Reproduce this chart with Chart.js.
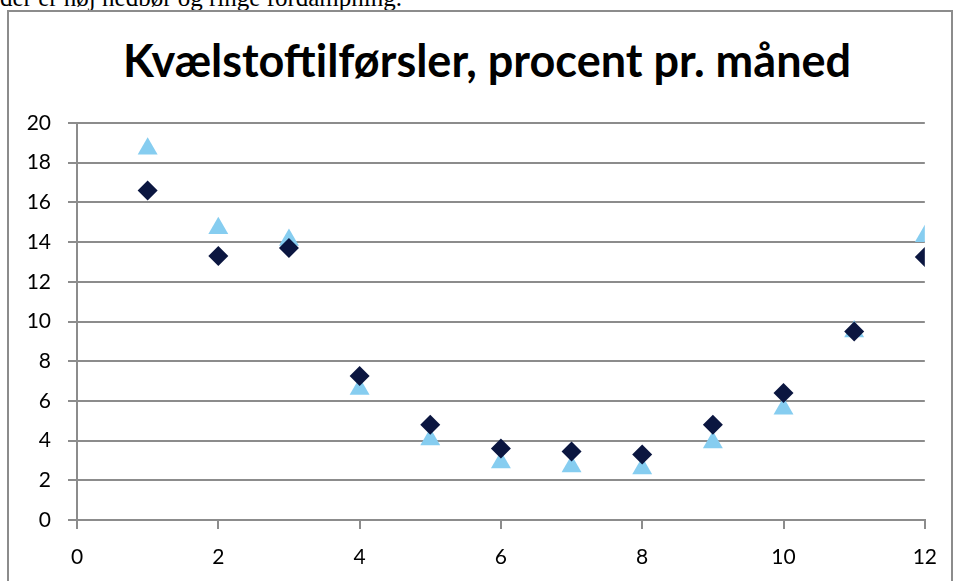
<!DOCTYPE html>
<html>
<head>
<meta charset="utf-8">
<script src="https://cdn.jsdelivr.net/npm/chart.js@4/dist/chart.umd.min.js"></script>
<style>
  html, body { margin: 0; padding: 0; background: #fff; overflow: hidden; }
  #page { position: relative; width: 953px; height: 581px; overflow: hidden; }
  #intro { position: absolute; left: 0; top: -16px; font-family: "Liberation Serif", "Times New Roman", serif; font-size: 25px; white-space: nowrap; color: #000; }
  #frame { position: absolute; left: 7px; top: 10px; width: 942px; height: 600px; border: 2px solid #8c8c8c; background: #fff; }
  #title { position: absolute; left: 0; top: 33px; width: 974px; text-align: center; font-family: "Lato", sans-serif; font-weight: bold; font-size: 45px; line-height: 54px; color: #000; white-space: nowrap; }
  #wrap { position: absolute; left: 0; top: 0; width: 953px; height: 581px; }
</style>
</head>
<body>
<div id="page">
  <div id="intro">der er høj nedbør og ringe fordampning.</div>
  <div id="frame"></div>
  <div id="title">Kvælstoftilførsler, procent pr. måned</div>
  <div id="wrap"><canvas id="kvChart"></canvas></div>
</div>
<script>
const months = [1, 2, 3, 4, 5, 6, 7, 8, 9, 10, 11, 12];
const seriesDiamond = [16.6, 13.3, 13.7, 7.25, 4.8, 3.6, 3.45, 3.3, 4.8, 6.4, 9.5, 13.25];
const seriesTriangle = [18.7, 14.7, 14.1, 6.6, 4.05, 2.9, 2.7, 2.6, 3.9, 5.6, 9.5, 14.3];
const xTicks = [0, 2, 4, 6, 8, 10, 12];
const yTicks = [0, 2, 4, 6, 8, 10, 12, 14, 16, 18, 20];

const gridColor = "#8c8c8c";

function toPoints(values) {
    return months.map((m, i) => ({ x: m, y: values[i] }));
}

new Chart(document.getElementById("kvChart"), {
    type: "scatter",
    data: {
        datasets: [
            {
                label: "Diamant",
                data: toPoints(seriesDiamond),
                pointStyle: "rectRot",
                pointRadius: 10,
                pointHoverRadius: 10,
                pointBorderWidth: 0,
                backgroundColor: "#0b1640",
                borderColor: "#0b1640"
            },
            {
                label: "Trekant",
                data: toPoints(seriesTriangle),
                pointStyle: "triangle",
                pointRadius: 11.5,
                pointHoverRadius: 11.5,
                pointBorderWidth: 0,
                backgroundColor: "#86cdf0",
                borderColor: "#86cdf0"
            }
        ]
    },
    options: {
        responsive: true,
        maintainAspectRatio: false,
        animation: false,
        layout: { padding: { top: 123, right: 28, bottom: 0, left: 0 } },
        plugins: {
            legend: { display: false },
            tooltip: { enabled: false },
            title: { display: false }
        },
        scales: {
            x: {
                type: "linear",
                min: 0,
                max: 12,
                afterFit: s => { s.height = 61; },
                afterBuildTicks: s => { s.ticks = xTicks.map(v => ({ value: v })); },
                ticks: { color: "#000", font: { family: "Lato", size: 21 }, padding: 16 },
                grid: { drawOnChartArea: false, drawTicks: true, tickLength: 9, color: gridColor, lineWidth: 2 },
                border: { display: true, color: gridColor, width: 2 }
            },
            y: {
                min: 0,
                max: 20,
                afterFit: s => { s.width = 77; },
                afterBuildTicks: s => { s.ticks = yTicks.map(v => ({ value: v })); },
                ticks: { color: "#000", font: { family: "Lato", size: 21 }, padding: 17 },
                grid: { drawTicks: true, tickLength: 9, color: gridColor, lineWidth: 2 },
                border: { display: true, color: gridColor, width: 2 }
            }
        }
    }
});
</script>
</body>
</html>
